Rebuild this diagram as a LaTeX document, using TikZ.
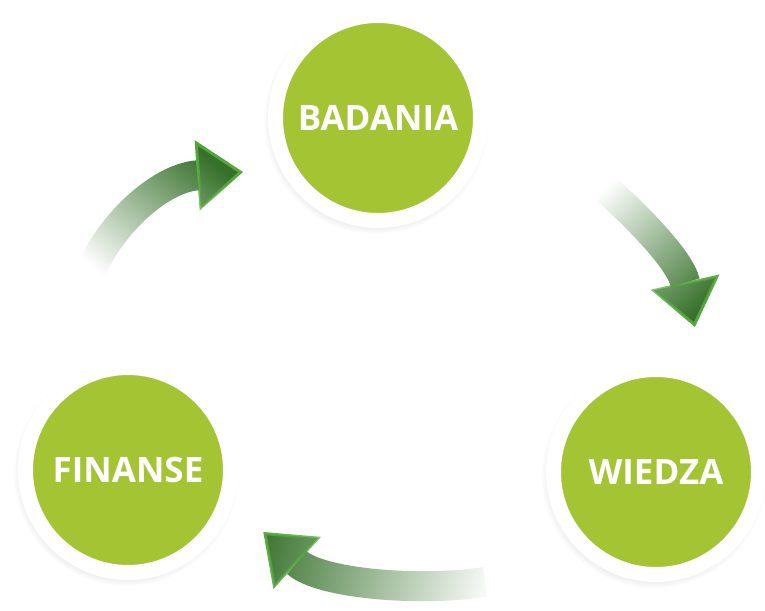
\documentclass[tikz,border=0pt]{standalone}
\usepackage{fontspec}
\setmainfont{Open Sans}
\usetikzlibrary{arrows.meta, shadows, fadings}

\definecolor{discgreen}{RGB}{164,196,52}
\definecolor{arrowdark}{RGB}{54,112,42}
\definecolor{arrowedge}{RGB}{82,166,60}

\tikzfading[name=fadetail, left color=transparent!100, middle color=transparent!15, right color=transparent!0]

\tikzset{
	stage/.style={circle, minimum size=205pt, inner sep=0pt, fill=discgreen, draw=white, line width=15pt,
		circular drop shadow={shadow xshift=-2pt, shadow yshift=-3pt, shadow scale=1.1, opacity=.3},
		text=white, font=\fontsize{35}{42}\selectfont\bfseries},
	cyclearrow/.style={line width=30pt, arrowdark, path fading=fadetail,
		-{Triangle[length=46pt, width=70pt, fill=arrowdark, color=arrowedge, line width=3pt]}},
}

\begin{document}
\begin{tikzpicture}[x=1pt, y=1pt]
	\useasboundingbox (0,0) rectangle (765,610);

	\node[stage] (bad) at (378,492) {BADANIA};
	\node[stage] (wie) at (656,138) {WIEDZA};
	\node[stage] (fin) at (128,140) {FINANSE};

	\coordinate (fintail) at (88,332);
	\coordinate (badtip) at (243,438);
	\coordinate (badtail) at (598,428);
	\coordinate (wietip) at (695,283);
	\coordinate (wietail) at (485,28);
	\coordinate (fintip) at (263,78);

	\draw[cyclearrow, fading angle=42] (fintail) .. controls (108,385) and (160,432) .. (badtip);
	\draw[cyclearrow, fading angle=-55] (badtail) .. controls (632,399) and (680,351) .. (wietip);
	\draw[cyclearrow, fading angle=175] (wietail) .. controls (420,18) and (320,26) .. (fintip);

\end{tikzpicture}
\end{document}
